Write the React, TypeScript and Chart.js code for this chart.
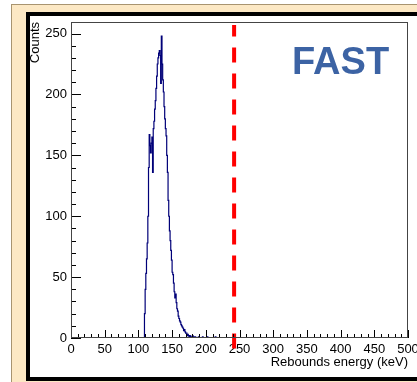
import React, { useEffect, useRef } from 'react';
import { Chart, registerables } from 'chart.js';

Chart.register(...registerables);

// ---- data ----
const binStart = 100; // keV, low edge of first bin
const binWidth = 1; // keV
const counts = [
  0, 0, 0, 0, 0, 0, 0, 0, 0, 0, // 100-109
  20, 40, 53, 65, 78, 100, 140, 167, 158, 152, // 110-119
  160, 165, 136, 172, 178, 188, 195, 205, 215, 225, // 120-129
  230, 234, 236, 232, 209, 248, 225, 212, 202, 190, // 130-139
  180, 172, 166, 150, 136, 113, 100, 88, 80, 72, // 140-149
  64, 54, 52, 45, 38, 33, 36, 29, 24, 22, // 150-159
  18, 16, 14, 13, 11, 10, 9, 8, 6, 7, // 160-169
  5, 4, 4, 2, 3, 2, 1, 2, 1, 0, // 170-179
  1, 2, 0, 1, 0, 1, 0, 0, 0, 0, // 180-189
  1, 0, 0, 0, 0, 0, 1, 0, 0, 0, // 190-199
  0, 0, 0, 1, 0, 0, 0, 0, 0, 0, // 200-209
  0, 0, 0, 0, 0, 1, 0, 0, 0, 0, // 210-219
  0,
];
const cutEnergy = [242, 242]; // keV, dashed cut line
const cutLineCounts = [-8.6, 257]; // vertical extent of the cut line
const xMin = 0;
const xMax = 500;
const xMajorStep = 50;
const xMinorStep = 10;
const yMin = 0;
const yMax = 259.5;
const yMajorStep = 50;
const yMinorStep = 10;
const yTickTop = 250;
const xTitle = 'Rebounds energy (keV)';
const yTitle = 'Counts';
const tag = 'FAST';

const FONT = '"Liberation Sans", Arial, Helvetica, sans-serif';

export default function App() {
  const ref = useRef<HTMLCanvasElement>(null);

  useEffect(() => {
    document.body.style.margin = '0';
    const canvas = ref.current!;
    const histData = counts.map((c, i) => ({ x: binStart + i * binWidth, y: c }));
    histData.push({ x: binStart + counts.length * binWidth, y: 0 });
    const cutData = cutEnergy.map((e, i) => ({ x: e, y: cutLineCounts[i] }));

    const framePlugin = {
      id: 'rootFrame',
      afterDatasetsDraw(chart: any) {
        const { ctx, chartArea: a, scales } = chart;
        const xs = scales.x;
        const ys = scales.y;
        ctx.save();
        ctx.strokeStyle = '#000';
        ctx.lineWidth = 1;
        ctx.beginPath();
        for (let v = yMin; v <= yTickTop; v += yMinorStep) {
          const py = Math.round(ys.getPixelForValue(v)) + 0.5;
          const len = v % yMajorStep === 0 ? 10 : 5;
          ctx.moveTo(a.left, py);
          ctx.lineTo(a.left + len, py);
        }
        for (let v = xMin; v <= xMax; v += xMinorStep) {
          const px = Math.round(xs.getPixelForValue(v)) + 0.5;
          const len = v % xMajorStep === 0 ? 8 : 4;
          ctx.moveTo(px, a.bottom);
          ctx.lineTo(px, a.bottom - len);
        }
        ctx.stroke();
        ctx.strokeStyle = '#444';
        ctx.strokeRect(
          Math.round(a.left) + 0.5,
          Math.round(a.top) + 0.5,
          Math.round(a.right - a.left) - 1,
          Math.round(a.bottom - a.top) - 1
        );
        ctx.restore();
      },
    };

    const chart = new Chart(canvas, {
      type: 'line',
      data: {
        datasets: [
          {
            data: cutData,
            borderColor: '#ff0000',
            borderWidth: 4,
            borderDash: [15, 11],
            pointRadius: 0,
            clip: false as any,
          },
          {
            data: histData,
            borderColor: '#000078',
            borderWidth: 1.2,
            stepped: 'after',
            pointRadius: 0,
            fill: false,
          },
        ],
      },
      options: {
        animation: false,
        responsive: false,
        devicePixelRatio: 1,
        layout: { padding: { left: 0, top: 22, right: 9, bottom: 0 } },
        plugins: { legend: { display: false }, tooltip: { enabled: false } },
        scales: {
          x: {
            type: 'linear',
            min: xMin,
            max: xMax,
            grid: { display: false, drawTicks: false },
            border: { display: false },
            ticks: {
              stepSize: xMajorStep,
              autoSkip: false,
              maxRotation: 0,
              padding: 4,
              color: '#000',
              font: { family: FONT, size: 13 },
            },
            title: {
              display: true,
              text: xTitle,
              align: 'end',
              color: '#000',
              font: { family: FONT, size: 13 },
              padding: { top: 11.5, bottom: 11.5 },
            },
            afterFit(scale: any) {
              scale.height = 44;
              scale.paddingLeft = 0;
              scale.paddingRight = 0;
            },
          },
          y: {
            type: 'linear',
            min: yMin,
            max: yMax,
            grid: { display: false, drawTicks: false },
            border: { display: false },
            ticks: {
              stepSize: yMajorStep,
              includeBounds: false,
              padding: 4,
              color: '#000',
              font: { family: FONT, size: 13 },
            },
            title: {
              display: true,
              text: yTitle,
              align: 'end',
              color: '#000',
              font: { family: FONT, size: 13 },
              padding: { top: 28, bottom: 28 },
            },
            afterFit(scale: any) {
              scale.width = 71;
              scale.paddingTop = 0;
              scale.paddingBottom = 0;
            },
          },
        },
      },
      plugins: [framePlugin],
    });
    return () => chart.destroy();
  }, []);

  return (
    <div style={{ position: 'fixed', left: 0, top: 0, width: 417, height: 382, overflow: 'hidden', background: '#fff' }}>
      <div
        style={{
          position: 'absolute',
          left: 11,
          top: 4,
          width: 430,
          height: 400,
          background: '#fce8c4',
          border: '1px solid #a89470',
          boxSizing: 'border-box',
        }}
      />
      <div
        style={{
          position: 'absolute',
          left: 26,
          top: 12,
          width: 430,
          height: 369,
          background: '#fff',
          border: '4px solid #000',
          boxSizing: 'border-box',
        }}
      />
      <canvas
        ref={ref}
        width={417}
        height={382}
        style={{ position: 'absolute', left: 0, top: 0, width: 417, height: 382 }}
      />
      <div
        style={{
          position: 'absolute',
          left: 292,
          top: 42,
          font: `bold 38px ${FONT}`,
          lineHeight: '38px',
          color: '#3c63a4',
          whiteSpace: 'nowrap',
        }}
      >
        {tag}
      </div>
    </div>
  );
}
